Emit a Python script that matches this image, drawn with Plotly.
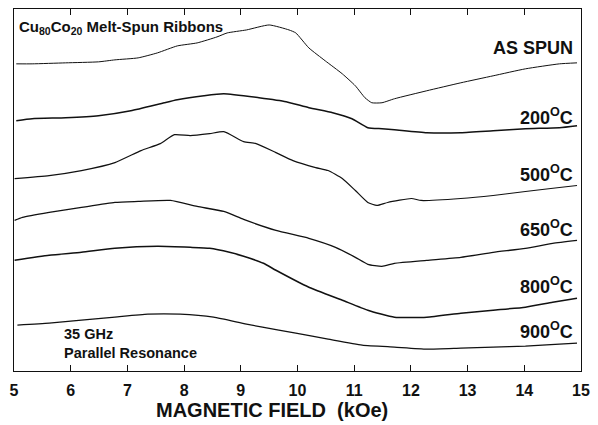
import plotly.graph_objects as go

# Magnetic field (kOe) and FMR signal (arb. units, offset per curve)
as_spun_x = [5.04, 5.32, 5.91, 6.49, 6.78, 7.19, 7.53, 7.88, 8.23, 8.58, 8.76, 9.10, 9.50, 9.85, 9.97,
             10.20, 10.49, 10.79, 11.02, 11.19, 11.31, 11.49, 11.71, 12.28, 12.88, 13.45, 14.02, 14.62, 14.93]
as_spun_y = [308, 308, 309, 310, 312, 314, 319, 326, 329, 335, 339, 342, 347, 342, 339,
             324, 311, 298, 286, 274, 269, 269, 273, 281, 289, 296, 303, 308, 309]

t200_x = [5.04, 5.32, 5.91, 6.49, 7.06, 7.65, 7.88, 8.35, 8.70, 9.32, 9.80, 10.20, 10.62, 10.96,
          11.24, 11.49, 11.71, 12.28, 12.88, 13.45, 14.02, 14.62, 14.93]
t200_y = [251, 253, 254, 256, 261, 269, 272, 276, 278, 274, 270, 264, 259, 253,
          244, 243, 242, 239, 239, 241, 243, 244, 246]

t500_x = [5.01, 5.62, 6.19, 6.78, 7.24, 7.58, 7.83, 8.11, 8.45, 8.70, 9.05, 9.27, 9.62, 9.92,
          10.32, 10.54, 10.79, 11.02, 11.24, 11.40, 11.59, 12.01, 12.18, 12.88, 13.45, 14.02, 14.62, 14.93]
t500_y = [193, 196, 201, 209, 221, 228, 237, 236, 238, 240, 230, 228, 219, 211,
          204, 201, 193, 181, 169, 166, 169, 173, 171, 173, 176, 180, 184, 186]

t650_x = [5.01, 5.15, 5.62, 6.19, 6.78, 7.19, 7.76, 8.23, 8.70, 9.05, 9.62, 10.20, 10.67, 11.02,
          11.24, 11.49, 11.71, 12.28, 12.88, 13.45, 14.02, 14.50, 14.93]
t650_y = [151, 154, 159, 164, 169, 170, 171, 165, 160, 152, 141, 133, 124, 114,
          107, 105, 108, 111, 114, 119, 123, 128, 131]

t800_x = [5.01, 5.62, 6.19, 6.78, 7.53, 8.11, 8.45, 8.80, 9.05, 9.40, 9.62, 10.20, 10.79, 11.24,
          11.71, 12.28, 12.88, 13.45, 14.02, 14.50, 14.93]
t800_y = [111, 116, 119, 123, 125, 124, 123, 119, 115, 108, 101, 84, 71, 61,
          54, 54, 58, 61, 64, 69, 73]

t900_x = [5.06, 5.62, 6.19, 6.78, 7.36, 7.93, 8.52, 9.10, 9.67, 9.97, 10.54, 11.14, 11.71, 12.28,
          12.88, 13.45, 14.02, 14.62, 14.93]
t900_y = [46, 48, 51, 54, 57, 57, 54, 47, 41, 38, 32, 26, 24, 22, 23, 24, 25, 27, 28]

curve_labels = ["AS SPUN", "200<sup>O</sup>C", "500<sup>O</sup>C", "650<sup>O</sup>C",
                "800<sup>O</sup>C", "900<sup>O</sup>C"]
label_y = [324, 255, 198, 143, 86, 41]
tick_vals = list(range(5, 16))

series = [
    (as_spun_x, as_spun_y, 1.0),
    (t200_x, t200_y, 1.5),
    (t500_x, t500_y, 1.2),
    (t650_x, t650_y, 1.3),
    (t800_x, t800_y, 1.5),
    (t900_x, t900_y, 1.3),
]

fig = go.Figure()
for xs, ys, w in series:
    fig.add_trace(go.Scatter(x=xs, y=ys, mode="lines",
                             line=dict(color="#111111", width=w, shape="spline", smoothing=0.5),
                             showlegend=False, hoverinfo="skip"))

font_b = "Liberation Sans, Arial, Helvetica, sans-serif"
for lab, ly in zip(curve_labels, label_y):
    fig.add_annotation(x=14.9, y=ly, xref="x", yref="y", text=lab, showarrow=False,
                       xanchor="right", yanchor="middle",
                       font=dict(family=font_b, size=18, color="#111", weight="bold"))

fig.add_annotation(x=5.06, y=344, xref="x", yref="y",
                   text="Cu<sub>80</sub>Co<sub>20</sub> Melt-Spun Ribbons", showarrow=False,
                   xanchor="left", yanchor="middle",
                   font=dict(family=font_b, size=15, color="#111", weight="bold"))
fig.add_annotation(x=5.84, y=28, xref="x", yref="y",
                   text="35 GHz<br>Parallel Resonance", showarrow=False, align="left",
                   xanchor="left", yanchor="middle",
                   font=dict(family=font_b, size=14.5, color="#111", weight="bold"))
fig.add_annotation(x=0.455, y=-0.108, xref="paper", yref="paper",
                   text="MAGNETIC FIELD  (kOe)", showarrow=False,
                   xanchor="center", yanchor="middle",
                   font=dict(family=font_b, size=20, color="#111", weight="bold"))

fig.update_layout(
    width=598, height=425,
    margin=dict(l=14, r=9, t=8, b=54),
    paper_bgcolor="white", plot_bgcolor="white",
    xaxis=dict(range=[5, 15], tickvals=tick_vals, ticks="inside", ticklen=6,
               tickcolor="#111", tickwidth=1, showline=True, linecolor="#111", linewidth=1.2,
               mirror="ticks", showgrid=False, zeroline=False, ticklabelstandoff=5,
               tickfont=dict(family=font_b, size=16, color="#111", weight="bold")),
    yaxis=dict(range=[0, 363], showticklabels=False, ticks="", showline=True,
               linecolor="#111", linewidth=1.2, mirror=True, showgrid=False, zeroline=False),
)

fig.write_html("out.html")
